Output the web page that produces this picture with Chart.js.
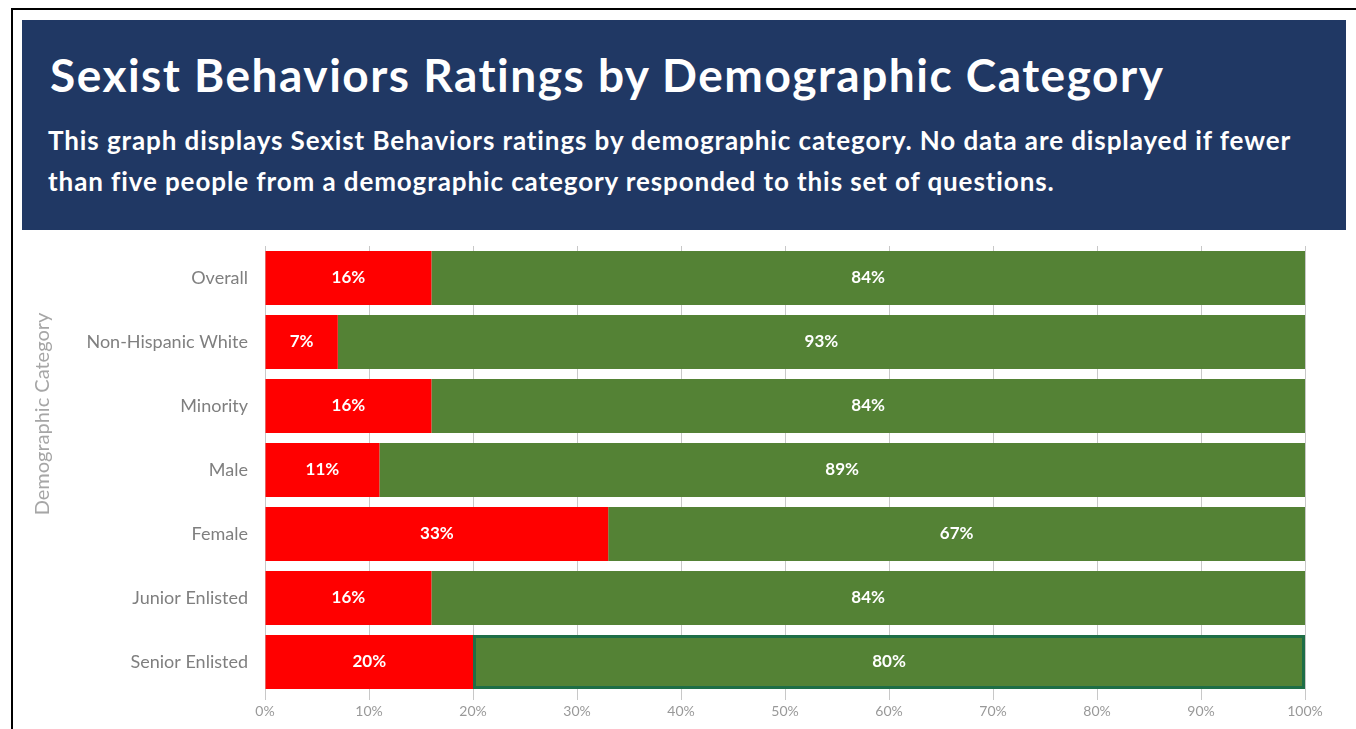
<!DOCTYPE html>
<html lang="en">
<head>
    <meta charset="UTF-8">
    <title>Sexist Behaviors Ratings by Demographic Category</title>
    <script src="https://cdn.jsdelivr.net/npm/chart.js"></script>
    <style>
        body {
            margin: 0;
            width: 1356px;
            height: 729px;
            background: #ffffff;
            font-family: Lato, "Open Sans", sans-serif;
            overflow: hidden;
            position: relative;
        }

        /* outer frame (top + left edges only) */
        #frame {
            position: absolute;
            left: 11px;
            top: 8px;
            width: 1360px;
            height: 740px;
            border-left: 2px solid #000;
            border-top: 2px solid #000;
        }

        #header {
            position: absolute;
            left: 22px;
            top: 20px;
            width: 1324px;
            height: 210px;
            background: #203864;
            color: #fff;
        }

        #header h1 {
            position: absolute;
            left: 28px;
            top: 32px;
            margin: 0;
            font-size: 46px;
            line-height: 46px;
            letter-spacing: 1.5px;
            font-weight: 700;
            white-space: nowrap;
        }

        #header p {
            position: absolute;
            left: 26px;
            top: 100px;
            width: 1300px;
            margin: 0;
            font-size: 26px;
            line-height: 41px;
            letter-spacing: 0.9px;
            font-weight: 700;
            white-space: nowrap;
        }

        #chart-box {
            position: absolute;
            left: 22px;
            top: 219px;
            width: 1334px;
            height: 510px;
        }
    </style>
</head>
<body>
    <div id="frame"></div>

    <div id="header">
        <h1>Sexist Behaviors Ratings by Demographic Category</h1>
        <p>This graph displays Sexist Behaviors ratings by demographic category. No data are displayed if fewer<br>than five people from a demographic category responded to this set of questions.</p>
    </div>

    <div id="chart-box">
        <canvas id="ratingsChart" width="1334" height="510"></canvas>
    </div>

    <script>
        // Data
        const categories = ['Overall', 'Non-Hispanic White', 'Minority', 'Male', 'Female', 'Junior Enlisted', 'Senior Enlisted'];
        const sexistPct = [16, 7, 16, 11, 33, 16, 20];
        const notSexistPct = [84, 93, 84, 89, 67, 84, 80];
        const xTicks = [0, 10, 20, 30, 40, 50, 60, 70, 80, 90, 100];
        const yAxisTitle = 'Demographic Category';

        // Draws the white % labels in the middle of each bar segment
        const barLabels = {
            id: 'barLabels',
            afterDatasetsDraw(chart) {
                const ctx = chart.ctx;
                ctx.save();
                ctx.fillStyle = '#ffffff';
                ctx.font = 'bold 17px Lato, sans-serif';
                ctx.textAlign = 'center';
                ctx.textBaseline = 'middle';
                chart.data.datasets.forEach((ds, di) => {
                    chart.getDatasetMeta(di).data.forEach((bar, i) => {
                        const mid = (bar.x + bar.base) / 2;
                        ctx.fillText(ds.data[i] + '%', mid, bar.y);
                    });
                });
                ctx.restore();
            }
        };

        // Axis title sits a bit above centre in the original, so draw it by hand
        const axisTitle = {
            id: 'axisTitle',
            afterDraw(chart) {
                const ctx = chart.ctx;
                ctx.save();
                ctx.translate(21, 195);
                ctx.rotate(-Math.PI / 2);
                ctx.fillStyle = '#a6a6a6';
                ctx.font = '20px Lato, sans-serif';
                ctx.textAlign = 'center';
                ctx.textBaseline = 'middle';
                ctx.fillText(yAxisTitle, 0, 0);
                ctx.restore();
            }
        };

        const ctx = document.getElementById('ratingsChart').getContext('2d');
        const ratingsChart = new Chart(ctx, {
            type: 'bar',
            data: {
                labels: categories,
                datasets: [
                    {
                        label: 'Sexist behaviors',
                        data: sexistPct,
                        backgroundColor: '#ff0000',
                        borderWidth: 0
                    },
                    {
                        label: 'No sexist behaviors',
                        data: notSexistPct,
                        backgroundColor: '#548235',
                        // last bar is shown selected in the original
                        borderColor: categories.map((c, i) => i === categories.length - 1 ? '#1e6e46' : 'rgba(0,0,0,0)'),
                        borderWidth: categories.map((c, i) => i === categories.length - 1 ? 3 : 0),
                        borderSkipped: false
                    }
                ]
            },
            options: {
                indexAxis: 'y',
                responsive: false,
                animation: false,
                barPercentage: 0.84,
                categoryPercentage: 1,
                layout: {
                    padding: { top: 27, right: 51, bottom: 0, left: 0 }
                },
                scales: {
                    x: {
                        stacked: true,
                        min: 0,
                        max: 100,
                        afterBuildTicks(scale) {
                            scale.ticks = xTicks.map(v => ({ value: v }));
                        },
                        afterFit(scale) {
                            scale.height = 35;
                        },
                        border: { display: false },
                        grid: {
                            color: '#c8c8c8',
                            lineWidth: 1,
                            tickLength: 6
                        },
                        ticks: {
                            color: '#999999',
                            font: { family: 'Lato, sans-serif', size: 14 },
                            padding: 3,
                            maxRotation: 0,
                            callback: v => v + '%'
                        }
                    },
                    y: {
                        stacked: true,
                        afterFit(scale) {
                            scale.width = 243;
                        },
                        border: { display: false },
                        grid: { display: false },
                        ticks: {
                            color: '#7f7f7f',
                            font: { family: 'Lato, sans-serif', size: 18 },
                            padding: 9
                        }
                    }
                },
                plugins: {
                    legend: { display: false },
                    tooltip: { enabled: false }
                }
            },
            plugins: [barLabels, axisTitle]
        });
    </script>
</body>
</html>
